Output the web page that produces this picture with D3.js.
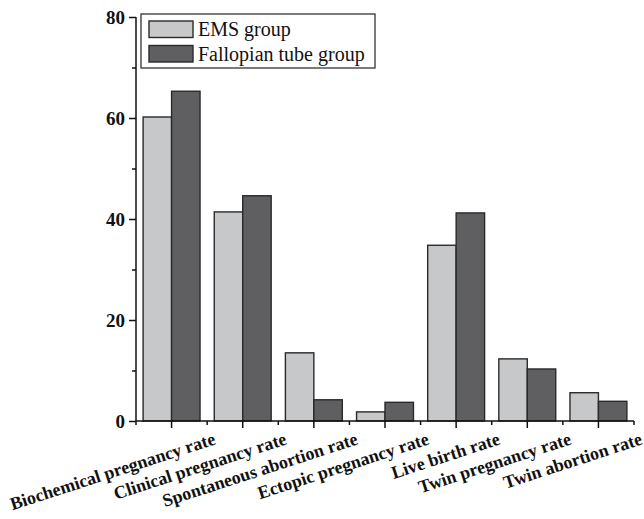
<!DOCTYPE html>
<html>
<head>
<meta charset="utf-8">
<script src="https://cdn.jsdelivr.net/npm/d3@7"></script>
<style>
	html, body { margin: 0; padding: 0; background: #fff; }
	svg { display: block; }
</style>
</head>
<body>
<svg id="chart" width="644" height="519"></svg>
<script>
	const categories = [
		"Biochemical pregnancy rate",
		"Clinical pregnancy rate",
		"Spontaneous abortion rate",
		"Ectopic pregnancy rate",
		"Live birth rate",
		"Twin pregnancy rate",
		"Twin abortion rate"
	];
	const seriesNames = ["EMS group", "Fallopian tube group"];
	const emsValues = [60.2, 41.4, 13.5, 1.8, 34.8, 12.3, 5.6];
	const tubeValues = [65.3, 44.6, 4.2, 3.7, 41.2, 10.3, 3.9];
	const yTicks = [0, 20, 40, 60, 80];
	const yMinorTicks = [10, 30, 50, 70];
	const colors = ["#c7c8ca", "#5f5f61"];

	const svg = d3.select("#chart");
	const serif = "'Liberation Serif', 'Times New Roman', serif";

	const x = d3.scaleBand().domain(categories).range([136, 634]).padding(0);
	const sub = d3.scaleBand().domain(seriesNames).range([0, x.bandwidth()])
		.paddingInner(0).paddingOuter(0.25);
	const y = d3.scaleLinear().domain([0, 80]).range([421, 17]);

	const rows = categories.map((c, i) => ({ cat: c, vals: [emsValues[i], tubeValues[i]] }));

	// bars
	const groups = svg.append("g").selectAll("g").data(rows).join("g")
		.attr("transform", d => `translate(${x(d.cat)},0)`);
	groups.selectAll("rect")
		.data(d => d.vals.map((v, j) => ({ name: seriesNames[j], v, j })))
		.join("rect")
		.attr("x", d => sub(d.name))
		.attr("y", d => y(d.v))
		.attr("width", sub.bandwidth())
		.attr("height", d => y(0) - y(d.v))
		.attr("fill", d => colors[d.j])
		.attr("stroke", "#2a2a2a")
		.attr("stroke-width", 1.4);

	// y axis
	const yAxis = svg.append("g").attr("transform", "translate(136,0)");
	yAxis.call(d3.axisLeft(y).tickValues(yTicks).tickSize(7).tickPadding(4).tickFormat(d3.format("d")));
	yAxis.append("g").call(d3.axisLeft(y).tickValues(yMinorTicks).tickSize(4).tickFormat(""))
		.select(".domain").remove();
	yAxis.selectAll(".domain").attr("d", `M0,${y(80)}V${y(0)}`);
	yAxis.selectAll("path, line").attr("stroke", "#111").attr("stroke-width", 1.5);
	yAxis.selectAll("text")
		.attr("font-family", serif).attr("font-weight", "bold")
		.attr("font-size", "19px").attr("fill", "#111");

	// x axis: major ticks at centers, minor ticks at band edges
	const xAxis = svg.append("g").attr("transform", `translate(0,${y(0)})`);
	xAxis.append("line")
		.attr("x1", x.range()[0]).attr("x2", x.range()[1])
		.attr("stroke", "#111").attr("stroke-width", 1.5);
	xAxis.selectAll("line.major").data(categories).join("line")
		.attr("class", "major")
		.attr("x1", d => x(d) + x.bandwidth() / 2).attr("x2", d => x(d) + x.bandwidth() / 2)
		.attr("y1", 0).attr("y2", 7)
		.attr("stroke", "#111").attr("stroke-width", 1.5);
	const edges = categories.map(c => x(c)).concat([x.range()[1]]);
	xAxis.selectAll("line.minor").data(edges).join("line")
		.attr("class", "minor")
		.attr("x1", d => d).attr("x2", d => d)
		.attr("y1", 0).attr("y2", 4)
		.attr("stroke", "#111").attr("stroke-width", 1.5);

	// rotated category labels, end-anchored right of each tick
	xAxis.selectAll("text").data(categories).join("text")
		.attr("transform", d => `translate(${x(d) + x.bandwidth() / 2 + 45},23) rotate(-18)`)
		.attr("text-anchor", "end")
		.attr("font-family", serif).attr("font-weight", "bold")
		.attr("font-size", "18px").attr("fill", "#111")
		.text(d => d);

	// legend
	const legend = svg.append("g");
	legend.append("rect")
		.attr("x", 141).attr("y", 14).attr("width", 234).attr("height", 54)
		.attr("fill", "#fff").attr("stroke", "#222").attr("stroke-width", 1.2);
	const items = legend.selectAll("g").data(seriesNames).join("g")
		.attr("transform", (d, i) => `translate(149,${21 + i * 24.5})`);
	items.append("rect")
		.attr("width", 44).attr("height", 16.5)
		.attr("fill", (d, i) => colors[i])
		.attr("stroke", "#2a2a2a").attr("stroke-width", 1.4);
	items.append("text")
		.attr("x", 49).attr("y", 15)
		.attr("font-family", serif).attr("font-size", "20px").attr("fill", "#111")
		.text(d => d);
</script>
</body>
</html>
